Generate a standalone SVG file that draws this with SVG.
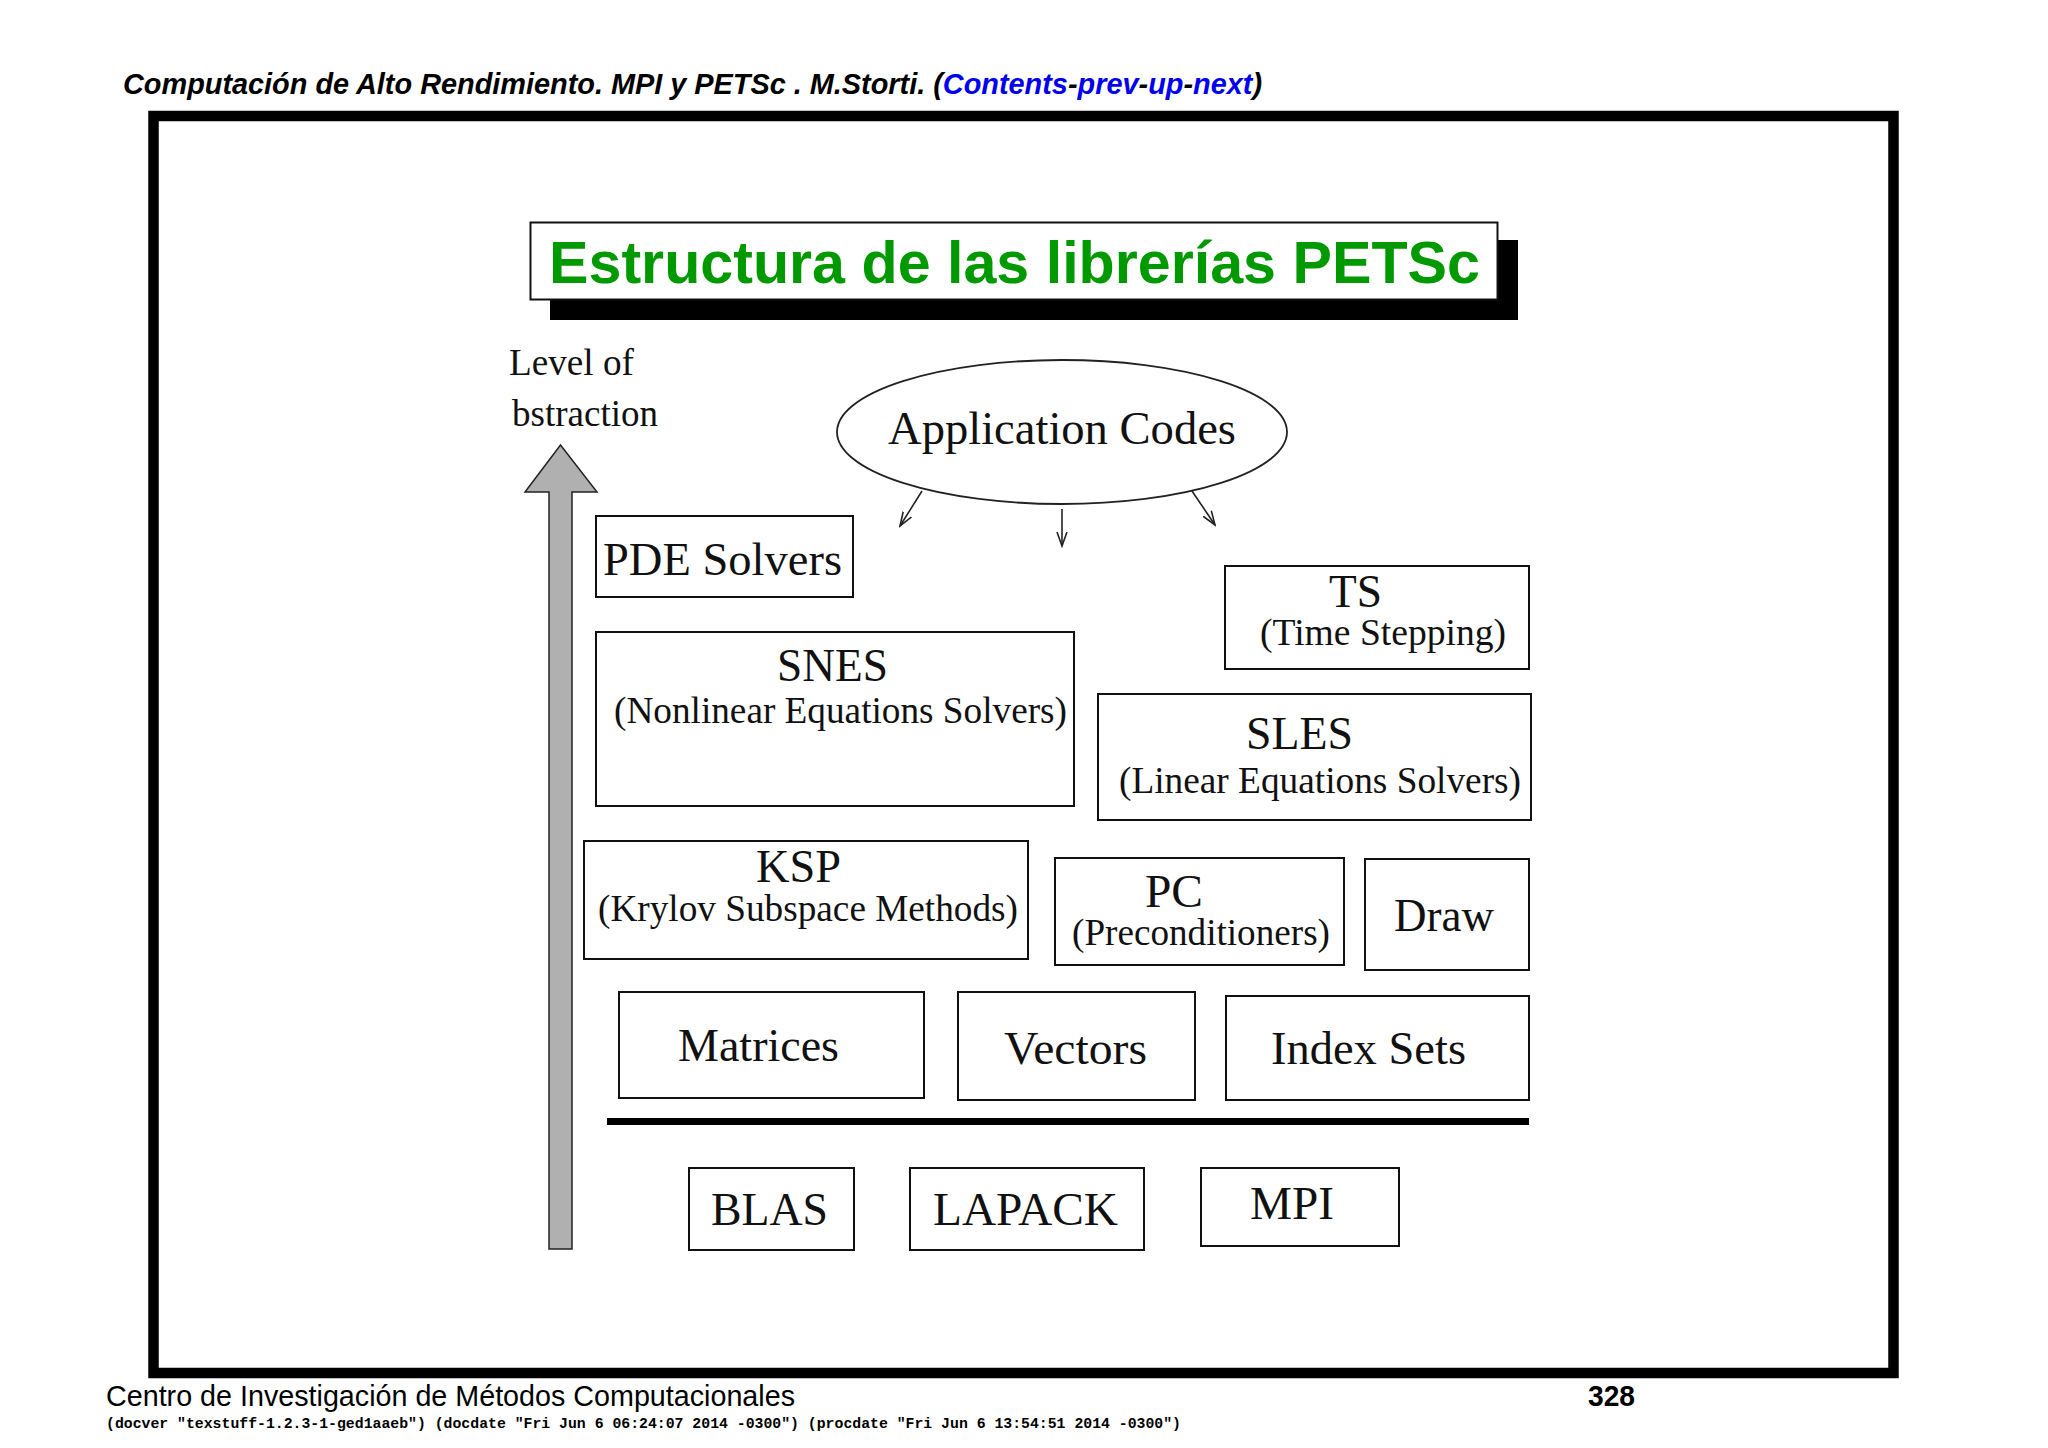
<svg xmlns="http://www.w3.org/2000/svg" width="2048" height="1448" viewBox="0 0 2048 1448">
<defs>
<style>
.hdr{font-family:"Liberation Sans",Arial,sans-serif;font-weight:bold;font-style:italic;font-size:29px;fill:#000}
.lnk{fill:#0000ee}
.ttl{font-family:"Liberation Sans",Arial,sans-serif;font-weight:bold;font-size:60px;fill:#009a00}
.lbl{font-family:"Liberation Serif","Times New Roman",serif;font-size:46px;fill:#111}
.sub{font-family:"Liberation Serif","Times New Roman",serif;font-size:37px;fill:#111}
.box{fill:none;stroke:#111;stroke-width:2}
.ftr{font-family:"Liberation Sans",Arial,sans-serif;font-size:29px;fill:#000}
.mono{font-family:"Liberation Mono","Courier New",monospace;font-weight:bold;font-size:15px;fill:#000}
.conn{fill:none;stroke:#222;stroke-width:1.6}
</style>
<marker id="open" markerUnits="userSpaceOnUse" markerWidth="16" markerHeight="12" refX="14" refY="6" orient="auto">
<path d="M0,1 L14,6 L0,11" fill="none" stroke="#222" stroke-width="1.6"/>
</marker>
</defs>
<rect width="2048" height="1448" fill="#fff"/>
<text class="hdr" x="123" y="94" textLength="1139" lengthAdjust="spacingAndGlyphs">Computación de Alto Rendimiento. MPI y PETSc . M.Storti. (<tspan class="lnk">Contents</tspan>-<tspan class="lnk">prev</tspan>-<tspan class="lnk">up</tspan>-<tspan class="lnk">next</tspan>)</text>
<rect x="153.5" y="116" width="1740" height="1257" fill="none" stroke="#000" stroke-width="10.5"/>
<g id="title">
<rect x="550" y="240" width="968" height="80" fill="#000"/>
<rect x="530.5" y="222.5" width="967" height="77" fill="#fff" stroke="#111" stroke-width="2"/>
<text class="ttl" x="549" y="283" textLength="931" lengthAdjust="spacingAndGlyphs">Estructura de las librerías PETSc</text>
</g>
<g id="abstraction-axis">
<text class="sub" x="509" y="375" textLength="125" lengthAdjust="spacingAndGlyphs">Level of</text>
<text class="sub" x="512" y="426" textLength="146" lengthAdjust="spacingAndGlyphs">bstraction</text>
<path d="M549,1249 L549,492 L525,492 L560.5,445 L597,492 L572,492 L572,1249 Z" fill="#b0b0b0" stroke="#222" stroke-width="1.5"/>
</g>
<g id="connectors">
<line class="conn" x1="922" y1="491" x2="900" y2="526" marker-end="url(#open)"/>
<line class="conn" x1="1062" y1="509" x2="1062" y2="546" marker-end="url(#open)"/>
<line class="conn" x1="1192" y1="491" x2="1215" y2="525" marker-end="url(#open)"/>
</g>
<g id="application-codes">
<ellipse cx="1062" cy="432" rx="225" ry="72" fill="none" stroke="#222" stroke-width="1.8"/>
<text class="lbl" x="888" y="444" textLength="348" lengthAdjust="spacingAndGlyphs">Application Codes</text>
</g>
<g id="pde-solvers">
<rect class="box" x="596" y="516" width="257" height="81"/>
<text class="lbl" x="603" y="575" textLength="239" lengthAdjust="spacingAndGlyphs">PDE Solvers</text>
</g>
<g id="ts">
<rect class="box" x="1225" y="566" width="304" height="103"/>
<text class="lbl" x="1329" y="607" font-size="44px" textLength="53" lengthAdjust="spacingAndGlyphs">TS</text>
<text class="sub" x="1260" y="645" font-size="35px" textLength="246" lengthAdjust="spacingAndGlyphs">(Time Stepping)</text>
</g>
<g id="snes">
<rect class="box" x="596" y="632" width="478" height="174"/>
<text class="lbl" x="777" y="681" textLength="111" lengthAdjust="spacingAndGlyphs">SNES</text>
<text class="sub" x="614" y="723" textLength="453" lengthAdjust="spacingAndGlyphs">(Nonlinear Equations Solvers)</text>
</g>
<g id="sles">
<rect class="box" x="1098" y="694" width="433" height="126"/>
<text class="lbl" x="1246" y="749" textLength="107" lengthAdjust="spacingAndGlyphs">SLES</text>
<text class="sub" x="1119" y="793" textLength="402" lengthAdjust="spacingAndGlyphs">(Linear Equations Solvers)</text>
</g>
<g id="ksp">
<rect class="box" x="584" y="841" width="444" height="118"/>
<text class="lbl" x="756" y="882" textLength="85" lengthAdjust="spacingAndGlyphs">KSP</text>
<text class="sub" x="598" y="921" textLength="420" lengthAdjust="spacingAndGlyphs">(Krylov Subspace Methods)</text>
</g>
<g id="pc">
<rect class="box" x="1055" y="858" width="289" height="107"/>
<text class="lbl" x="1145" y="907" textLength="58" lengthAdjust="spacingAndGlyphs">PC</text>
<text class="sub" x="1072" y="945" textLength="258" lengthAdjust="spacingAndGlyphs">(Preconditioners)</text>
</g>
<g id="draw">
<rect class="box" x="1365" y="859" width="164" height="111"/>
<text class="lbl" x="1394" y="931" textLength="100" lengthAdjust="spacingAndGlyphs">Draw</text>
</g>
<g id="matrices">
<rect class="box" x="619" y="992" width="305" height="106"/>
<text class="lbl" x="678" y="1061" textLength="161" lengthAdjust="spacingAndGlyphs">Matrices</text>
</g>
<g id="vectors">
<rect class="box" x="958" y="992" width="237" height="108"/>
<text class="lbl" x="1004" y="1064" textLength="143" lengthAdjust="spacingAndGlyphs">Vectors</text>
</g>
<g id="index-sets">
<rect class="box" x="1226" y="996" width="303" height="104"/>
<text class="lbl" x="1271" y="1064" textLength="195" lengthAdjust="spacingAndGlyphs">Index Sets</text>
</g>
<rect id="separator" x="607" y="1118" width="922" height="7" fill="#000"/>
<g id="blas">
<rect class="box" x="689" y="1168" width="165" height="82"/>
<text class="lbl" x="711" y="1225" textLength="117" lengthAdjust="spacingAndGlyphs">BLAS</text>
</g>
<g id="lapack">
<rect class="box" x="910" y="1168" width="234" height="82"/>
<text class="lbl" x="933" y="1225" textLength="185" lengthAdjust="spacingAndGlyphs">LAPACK</text>
</g>
<g id="mpi">
<rect class="box" x="1201" y="1168" width="198" height="78"/>
<text class="lbl" x="1250" y="1219" textLength="84" lengthAdjust="spacingAndGlyphs">MPI</text>
</g>
<text class="ftr" x="106" y="1406" textLength="689" lengthAdjust="spacingAndGlyphs">Centro de Investigación de Métodos Computacionales</text>
<text class="ftr" x="1588" y="1406" font-weight="bold" textLength="47" lengthAdjust="spacingAndGlyphs">328</text>
<text class="mono" x="106" y="1428" textLength="1075" lengthAdjust="spacingAndGlyphs">(docver "texstuff-1.2.3-1-ged1aaeb") (docdate "Fri Jun 6 06:24:07 2014 -0300") (procdate "Fri Jun 6 13:54:51 2014 -0300")</text>
</svg>
